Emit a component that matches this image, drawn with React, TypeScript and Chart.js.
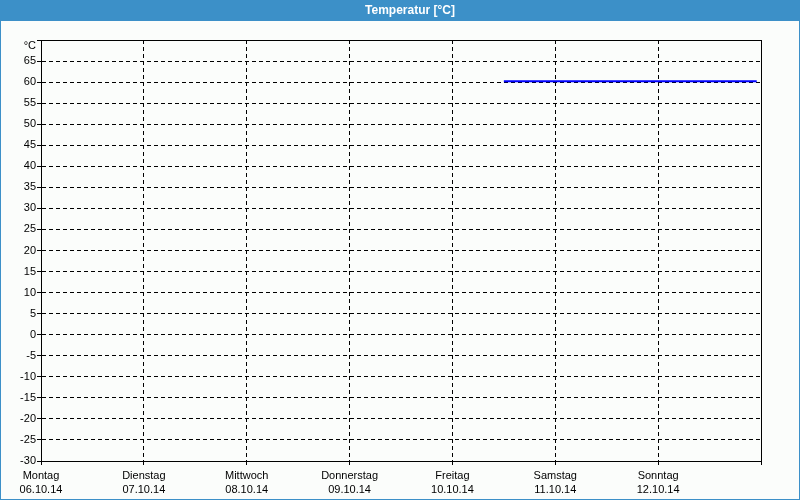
import React, { useEffect, useRef } from "react";
import { Chart, registerables } from "chart.js";

Chart.register(...registerables);

const chartTitle = "Temperatur [°C]";
const dayNames = ["Montag", "Dienstag", "Mittwoch", "Donnerstag", "Freitag", "Samstag", "Sonntag"];
const dayDates = ["06.10.14", "07.10.14", "08.10.14", "09.10.14", "10.10.14", "11.10.14", "12.10.14"];
const hours = [108, 120, 132, 144, 156, 167];
const temps = [60.2, 60.2, 60.2, 60.2, 60.2, 60.2];
const yUnit = "°C";
const yMin = -30;
const yMax = 70;

const FONT = "'Liberation Sans', 'DejaVu Sans', sans-serif";
const BAND = "#3c90c8";
const BG = "#fbfdfb";

const framePlugin = {
  id: "frame",
  beforeDraw(chart: any) {
    const { ctx, width, height } = chart;
    ctx.save();
    ctx.fillStyle = BG;
    ctx.fillRect(0, 0, width, height);
    ctx.fillStyle = BAND;
    ctx.fillRect(0, 0, width, 21);
    ctx.fillRect(0, 0, 1, height);
    ctx.fillRect(width - 1, 0, 1, height);
    ctx.fillRect(0, height - 1, width, 1);
    ctx.fillStyle = "#ffffff";
    ctx.font = "bold 12px " + FONT;
    ctx.textAlign = "center";
    ctx.textBaseline = "middle";
    ctx.fillText(chartTitle, 410, 11);
    ctx.restore();
  },
  afterDatasetsDraw(chart: any) {
    const { ctx, chartArea } = chart;
    ctx.save();
    ctx.strokeStyle = "#000000";
    ctx.lineWidth = 1;
    ctx.setLineDash([]);
    ctx.strokeRect(
      Math.round(chartArea.left) + 0.5,
      Math.round(chartArea.top) + 0.5,
      Math.round(chartArea.right - chartArea.left),
      Math.round(chartArea.bottom - chartArea.top)
    );
    // unit label of the y axis, just below the top edge
    ctx.fillStyle = "#000000";
    ctx.font = "11px " + FONT;
    ctx.textAlign = "right";
    ctx.textBaseline = "middle";
    ctx.fillText(yUnit, Math.round(chartArea.left) - 5, Math.round(chartArea.top) + 6);
    ctx.restore();
  },
};

export default function App() {
  const ref = useRef<HTMLCanvasElement>(null);
  useEffect(() => {
    if (!ref.current) return;
    const chart = new Chart(ref.current, {
      type: "line",
      data: {
        datasets: [
          {
            data: hours.map((h, i) => ({ x: h, y: temps[i] })),
            borderColor: "#0000ff",
            borderWidth: 2,
            pointRadius: 0,
            tension: 0,
          },
        ],
      },
      options: {
        animation: false,
        responsive: false,
        layout: { padding: { left: 0, top: 40, right: 39, bottom: 0 } },
        plugins: { legend: { display: false }, title: { display: false }, tooltip: { enabled: false } },
        scales: {
          x: {
            type: "linear",
            min: 0,
            max: 168,
            afterFit: (s: any) => { s.height = 39; },
            afterBuildTicks: (s: any) => {
              s.ticks = [0, 24, 48, 72, 96, 120, 144, 168].map((v) => ({ value: v }));
            },
            ticks: {
              autoSkip: false,
              maxRotation: 0,
              padding: 3,
              color: "#000000",
              font: { family: FONT, size: 11, lineHeight: 1.36 },
              callback: (v: any) => {
                const i = Math.round(Number(v) / 24);
                if (i >= dayNames.length) return "";
                return [dayNames[i], dayDates[i]];
              },
            },
            grid: { color: "#000000", tickLength: 4, lineWidth: 1 },
            border: { display: true, color: "#000000", width: 1, dash: [4, 3] },
          },
          y: {
            type: "linear",
            min: yMin,
            max: yMax,
            afterFit: (s: any) => { s.width = 41; },
            ticks: {
              stepSize: 5,
              padding: 1,
              color: "#000000",
              font: { family: FONT, size: 11 },
              callback: (v: any) => (Number(v) === yMax ? "" : String(v)),
            },
            grid: { color: "#000000", tickLength: 4, lineWidth: 1 },
            border: { display: true, color: "#000000", width: 1, dash: [4, 3] },
          },
        },
      },
      plugins: [framePlugin],
    } as any);
    return () => chart.destroy();
  }, []);
  return (
    <div style={{ position: "fixed", left: 0, top: 0, width: 800, height: 500 }}>
      <canvas ref={ref} width={800} height={500} style={{ display: "block" }} />
    </div>
  );
}
